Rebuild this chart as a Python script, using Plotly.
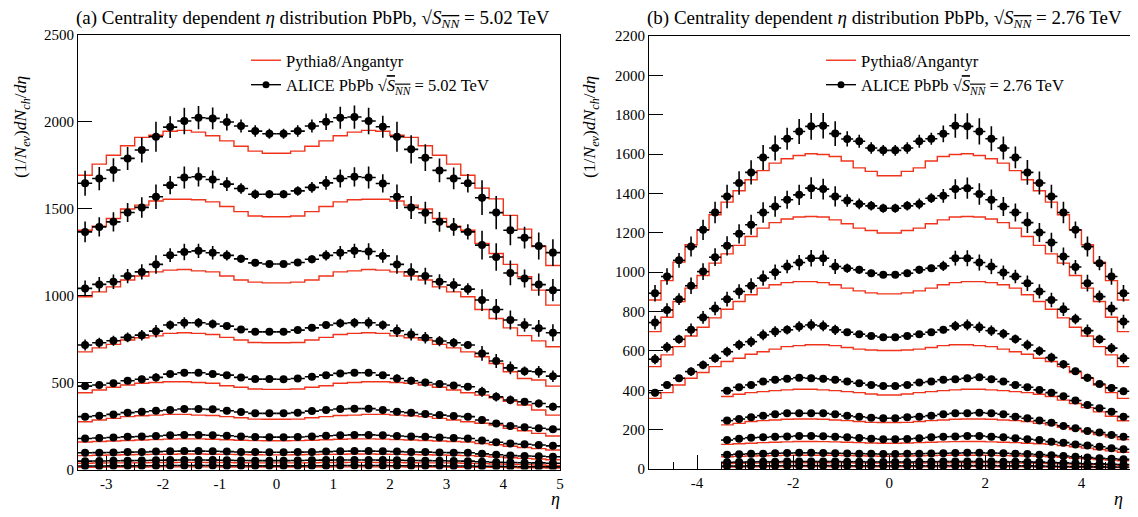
import plotly.graph_objects as go

# ---------------- Panel (a): PbPb 5.02 TeV ----------------
eta_a = [-3.375, -3.125, -2.875, -2.625, -2.375, -2.125, -1.875, -1.625, -1.375, -1.125,
         -0.875, -0.625, -0.375, -0.125, 0.125, 0.375, 0.625, 0.875, 1.125, 1.375,
         1.625, 1.875, 2.125, 2.375, 2.625, 2.875, 3.125, 3.375, 3.625, 3.875,
         4.125, 4.375, 4.625, 4.875]
edges_a = [-3.5, -3.25, -3.0, -2.75, -2.5, -2.25, -2.0, -1.75, -1.5, -1.25, -1.0, -0.75,
           -0.5, -0.25, 0.0, 0.25, 0.5, 0.75, 1.0, 1.25, 1.5, 1.75, 2.0, 2.25, 2.5, 2.75,
           3.0, 3.25, 3.5, 3.75, 4.0, 4.25, 4.5, 4.75, 5.0]
half_bin = 0.125

# ALICE data, centrality classes 0-5, 5-10, 10-20, ..., 80-90 %
alice_a_0_5 = [1647, 1674, 1723, 1790, 1838, 1915, 1970, 2005, 2024, 2020, 1999, 1976, 1947, 1932,
               1932, 1947, 1976, 2001, 2024, 2028, 2005, 1972, 1915, 1842, 1794, 1721, 1675, 1647,
               1564, 1478, 1377, 1334, 1286, 1248]
alice_a_5_10 = [1367, 1396, 1425, 1479, 1508, 1569, 1636, 1680, 1684, 1669, 1642, 1617, 1584, 1584,
                1584, 1603, 1623, 1649, 1674, 1684, 1680, 1646, 1569, 1508, 1477, 1425, 1396, 1367,
                1291, 1223, 1131, 1099, 1064, 1032]
alice_a_10_20 = [1042, 1065, 1080, 1113, 1137, 1180, 1233, 1252, 1258, 1247, 1232, 1212, 1189, 1182,
                 1182, 1191, 1210, 1232, 1247, 1258, 1254, 1229, 1180, 1137, 1113, 1080, 1061, 1038,
                 975, 921, 860, 831, 812, 787]
alice_a_20_30 = [716, 729, 741, 760, 773, 796, 831, 844, 844, 837, 825, 806, 792, 792,
                 792, 802, 815, 831, 841, 844, 844, 831, 798, 777, 758, 739, 729, 716,
                 668, 624, 585, 566, 562, 537]
alice_a_30_40 = [480, 486, 496, 511, 519, 530, 549, 557, 557, 549, 543, 530, 520, 520,
                 519, 524, 534, 543, 553, 557, 557, 543, 524, 511, 501, 492, 484, 476,
                 447, 418, 400, 390, 380, 361]
alice_a_40_50 = [304, 309, 317, 327, 332, 338, 342, 348, 348, 346, 338, 331, 323, 323,
                 323, 327, 336, 342, 348, 350, 350, 342, 332, 327, 319, 313, 308, 304,
                 285, 265, 250, 243, 237, 231]
alice_a_50_60 = [178, 181, 184, 188, 190, 193, 197, 199, 199, 197, 194, 190, 187, 186,
                 186, 187, 190, 194, 197, 199, 199, 197, 193, 190, 188, 184, 181, 178,
                 167, 157, 149, 145, 141, 136]
alice_a_60_70 = [96, 97, 98, 100, 101, 103, 105, 106, 106, 105, 103, 101, 100, 99,
                 99, 100, 101, 103, 105, 106, 106, 105, 103, 101, 100, 98, 97, 96,
                 90, 85, 80, 78, 76, 73]
alice_a_70_80 = [48, 49, 50, 51, 52, 53, 54, 55, 55, 54, 53, 52, 51, 51,
                 51, 52, 53, 54, 55, 55, 55, 54, 53, 52, 51, 50, 49, 48,
                 45, 42, 40, 39, 38, 36]
alice_a_80_90 = [20, 20, 21, 21, 22, 22, 23, 23, 23, 23, 22, 22, 21, 21,
                 21, 21, 22, 22, 23, 23, 23, 23, 22, 22, 21, 21, 20, 20,
                 19, 18, 17, 16, 16, 15]
rel_err_a = [0.044, 0.040, 0.039, 0.037, 0.039, 0.045, 0.032, 0.038, 0.033, 0.031, 0.024, 0.019,
             0.017, 0.015, 0.015, 0.017, 0.019, 0.024, 0.031, 0.033, 0.038, 0.032, 0.045, 0.044,
             0.043, 0.040, 0.037, 0.032, 0.064, 0.065, 0.063, 0.047, 0.060, 0.062]

# Pythia8/Angantyr histograms (one value per bin of edges_a)
pythia_a_0_5 = [1693, 1757, 1808, 1863, 1911, 1923, 1946, 1951, 1941, 1920, 1891, 1860, 1832, 1820,
                1820, 1832, 1860, 1891, 1920, 1941, 1951, 1946, 1923, 1911, 1863, 1808, 1757, 1693,
                1619, 1557, 1462, 1383, 1283, 1174]
pythia_a_5_10 = [1377, 1400, 1444, 1499, 1521, 1545, 1555, 1555, 1552, 1540, 1513, 1484, 1459, 1454,
                 1454, 1459, 1484, 1513, 1540, 1552, 1555, 1555, 1545, 1521, 1499, 1444, 1400, 1377,
                 1301, 1243, 1180, 1109, 1032, 946]
pythia_a_10_20 = [994, 1022, 1051, 1090, 1113, 1137, 1147, 1151, 1143, 1137, 1113, 1090, 1078, 1074,
                  1074, 1078, 1090, 1113, 1137, 1143, 1151, 1147, 1137, 1113, 1090, 1051, 1022, 994,
                  921, 869, 815, 770, 740, 706]
pythia_a_20_30 = [677, 700, 720, 745, 758, 769, 783, 787, 783, 777, 760, 745, 731, 729,
                  729, 731, 745, 760, 777, 783, 787, 783, 769, 758, 745, 720, 700, 677,
                  649, 610, 562, 524, 515, 480]
pythia_a_30_40 = [442, 457, 473, 486, 496, 501, 505, 505, 501, 496, 482, 473, 463, 461,
                  461, 463, 473, 482, 496, 501, 505, 505, 501, 496, 486, 473, 457, 442,
                  428, 412, 393, 371, 342, 313]
pythia_a_40_50 = [275, 285, 294, 304, 309, 313, 317, 317, 313, 311, 304, 298, 290, 289,
                  289, 290, 298, 304, 311, 313, 317, 317, 313, 309, 304, 294, 285, 275,
                  266, 256, 237, 223, 208, 193]
pythia_a_50_60 = [158, 161, 164, 167, 170, 172, 175, 176, 176, 174, 171, 168, 166, 165,
                  165, 166, 168, 171, 174, 176, 176, 175, 172, 170, 167, 164, 161, 158,
                  150, 142, 134, 127, 120, 112]
pythia_a_60_70 = [80, 82, 83, 85, 86, 87, 88, 89, 89, 88, 87, 86, 85, 84,
                  84, 85, 86, 87, 88, 89, 89, 88, 87, 86, 85, 83, 82, 80,
                  76, 72, 68, 64, 60, 56]
pythia_a_70_80 = [36, 37, 38, 38, 39, 40, 40, 41, 41, 40, 40, 39, 38, 38,
                  38, 38, 39, 40, 40, 41, 41, 40, 40, 39, 38, 38, 37, 36,
                  34, 32, 30, 28, 26, 24]
pythia_a_80_90 = [13, 13, 14, 14, 14, 15, 15, 15, 15, 15, 14, 14, 14, 14,
                  14, 14, 14, 14, 15, 15, 15, 15, 15, 14, 14, 14, 13, 13,
                  12, 12, 11, 10, 10, 9]

# ---------------- Panel (b): PbPb 2.76 TeV ----------------
eta_b_full = [-4.875, -4.625, -4.375, -4.125, -3.875, -3.625, -3.375, -3.125, -2.875, -2.625,
              -2.375, -2.125, -1.875, -1.625, -1.375, -1.125, -0.875, -0.625, -0.375, -0.125,
              0.125, 0.375, 0.625, 0.875, 1.125, 1.375, 1.625, 1.875, 2.125, 2.375,
              2.625, 2.875, 3.125, 3.375, 3.625, 3.875, 4.125, 4.375, 4.625, 4.875]
edges_b_full = [-5.0, -4.75, -4.5, -4.25, -4.0, -3.75, -3.5, -3.25, -3.0, -2.75, -2.5, -2.25,
                -2.0, -1.75, -1.5, -1.25, -1.0, -0.75, -0.5, -0.25, 0.0, 0.25, 0.5, 0.75,
                1.0, 1.25, 1.5, 1.75, 2.0, 2.25, 2.5, 2.75, 3.0, 3.25, 3.5, 3.75, 4.0, 4.25,
                4.5, 4.75, 5.0]
eta_b_short = eta_a
edges_b_short = edges_a

alice_b_0_5 = [893, 978, 1060, 1130, 1215, 1303, 1385, 1453, 1507, 1583, 1631, 1678, 1715, 1741,
               1744, 1704, 1677, 1665, 1631, 1619, 1619, 1631, 1665, 1678, 1703, 1744, 1741, 1715,
               1678, 1631, 1583, 1507, 1453, 1385, 1303, 1215, 1130, 1046, 978, 893]
alice_b_5_10 = [744, 808, 863, 931, 1003, 1076, 1134, 1195, 1241, 1303, 1334, 1368, 1393, 1427,
                1422, 1385, 1364, 1347, 1337, 1325, 1325, 1337, 1347, 1376, 1388, 1422, 1427, 1397,
                1368, 1334, 1303, 1252, 1202, 1151, 1080, 1026, 944, 876, 815, 749]
alice_b_10_20 = [558, 619, 659, 707, 770, 815, 863, 902, 931, 970, 1000, 1029, 1049, 1071,
                 1071, 1029, 1020, 1012, 995, 987, 987, 995, 1012, 1020, 1032, 1071, 1071, 1049,
                 1029, 998, 978, 944, 902, 859, 812, 762, 703, 659, 614, 563]
alice_b_20_30 = [388, 427, 461, 495, 529, 563, 596, 631, 647, 681, 698, 707, 724, 732,
                 727, 707, 695, 685, 676, 670, 670, 676, 685, 695, 707, 727, 732, 720,
                 703, 687, 660, 630, 600, 566, 532, 497, 463, 432, 412, 395]
alice_b_30_40 = [398, 415, 427, 444, 453, 458, 464, 461, 458, 453, 444, 436, 427, 422,
                 422, 427, 439, 444, 453, 456, 461, 466, 456, 444, 427, 415, 402, 388,
                 370, 348, 325, 309, 291, 266]
alice_b_40_50 = [246, 254, 263, 271, 278, 283, 283, 283, 283, 278, 270, 265, 261, 258,
                 258, 263, 266, 271, 278, 283, 283, 286, 283, 278, 266, 258, 246, 235,
                 219, 207, 193, 185, 173, 164]
alice_b_50_60 = [147, 154, 159, 161, 164, 165, 168, 168, 166, 164, 161, 158, 154, 151,
                 151, 153, 156, 161, 164, 165, 168, 168, 164, 161, 156, 151, 147, 139,
                 134, 125, 120, 113, 105, 100]
alice_b_60_70 = [72, 75, 77, 78, 80, 81, 82, 82, 81, 80, 79, 78, 77, 76,
                 76, 77, 78, 79, 80, 81, 82, 82, 81, 80, 78, 76, 73, 70,
                 66, 62, 58, 55, 52, 49]
alice_b_70_80 = [34, 35, 36, 37, 37, 38, 38, 38, 38, 38, 37, 37, 36, 36,
                 36, 36, 37, 37, 38, 38, 38, 38, 38, 37, 37, 36, 35, 33,
                 31, 29, 27, 26, 24, 23]
alice_b_80_90 = [15, 15, 16, 16, 16, 17, 17, 17, 17, 17, 16, 16, 16, 16,
                 16, 16, 16, 16, 17, 17, 17, 17, 17, 16, 16, 16, 15, 14,
                 13, 12, 12, 11, 10, 10]
rel_err_b_full = [0.047, 0.043, 0.035, 0.045, 0.042, 0.042, 0.043, 0.041, 0.041, 0.040,
                  0.039, 0.033, 0.037, 0.039, 0.037, 0.037, 0.023, 0.020, 0.018, 0.017,
                  0.017, 0.018, 0.020, 0.018, 0.025, 0.035, 0.038, 0.039, 0.038, 0.036,
                  0.035, 0.042, 0.040, 0.043, 0.042, 0.035, 0.045, 0.035, 0.043, 0.047]
rel_err_b_short = rel_err_b_full[6:]

pythia_b_0_5 = [859, 957, 1051, 1139, 1215, 1292, 1356, 1414, 1470, 1516, 1554, 1576, 1593, 1602,
                1598, 1588, 1565, 1530, 1512, 1490, 1490, 1512, 1530, 1565, 1588, 1598, 1602, 1593,
                1576, 1554, 1516, 1470, 1414, 1356, 1292, 1215, 1139, 1051, 957, 859]
pythia_b_5_10 = [698, 771, 851, 919, 983, 1046, 1093, 1136, 1181, 1224, 1252, 1270, 1280, 1283,
                 1280, 1266, 1246, 1224, 1212, 1199, 1199, 1212, 1224, 1246, 1266, 1280, 1283, 1280,
                 1270, 1252, 1224, 1181, 1136, 1093, 1046, 983, 919, 851, 771, 698]
pythia_b_10_20 = [520, 580, 622, 676, 720, 768, 812, 851, 885, 919, 936, 947, 952, 952,
                  947, 936, 919, 905, 895, 890, 890, 895, 905, 919, 936, 947, 952, 952,
                  947, 936, 919, 885, 851, 812, 768, 720, 676, 622, 580, 520]
pythia_b_20_30 = [359, 388, 427, 461, 490, 520, 546, 563, 583, 596, 609, 622, 627, 631,
                  631, 627, 617, 609, 605, 602, 602, 605, 609, 617, 627, 631, 631, 627,
                  622, 609, 596, 583, 563, 546, 520, 490, 461, 427, 388, 359]
pythia_b_30_40 = [368, 380, 388, 393, 398, 402, 405, 405, 402, 398, 393, 388, 381, 376,
                  376, 381, 388, 393, 398, 402, 405, 405, 402, 398, 393, 388, 380, 368,
                  350, 333, 312, 290, 268, 245]
pythia_b_40_50 = [224, 232, 241, 246, 249, 253, 254, 254, 253, 249, 246, 241, 237, 236,
                  236, 237, 241, 246, 249, 253, 254, 254, 253, 249, 246, 241, 232, 224,
                  212, 200, 188, 175, 163, 150]
pythia_b_50_60 = [125, 128, 131, 134, 136, 138, 140, 140, 139, 138, 136, 134, 132, 131,
                  131, 132, 134, 136, 138, 139, 140, 140, 138, 136, 134, 131, 128, 125,
                  119, 113, 106, 99, 92, 85]
pythia_b_60_70 = [62, 64, 66, 67, 68, 69, 70, 70, 70, 69, 68, 67, 66, 65,
                  65, 66, 67, 68, 69, 70, 70, 70, 69, 68, 67, 66, 64, 62,
                  59, 55, 52, 48, 45, 42]
pythia_b_70_80 = [28, 29, 30, 30, 31, 31, 32, 32, 32, 31, 31, 30, 30, 30,
                  30, 30, 30, 31, 31, 32, 32, 32, 31, 31, 30, 30, 29, 28,
                  26, 25, 23, 22, 20, 19]
pythia_b_80_90 = [10, 10, 11, 11, 11, 11, 12, 12, 12, 11, 11, 11, 11, 11,
                  11, 11, 11, 11, 11, 12, 12, 12, 11, 11, 11, 11, 10, 10,
                  9, 9, 8, 8, 7, 7]

xticks_a = [-3, -2, -1, 0, 1, 2, 3, 4, 5]
xticktext_a = ["-3", "-2", "-1", "0", "1", "2", "3", "4", "5"]
xticks_b = [-4, -2, 0, 2, 4]
xticktext_b = ["-4", "-2", "0", "2", "4"]

# ---------------- build figure ----------------
RED = "rgb(240,52,28)"
FONT = "Liberation Serif"
SQRTS = "√<span style='text-decoration:overline'><i>S</i><sub><i>NN</i></sub></span>"

panel_a = [
    (eta_a, edges_a, rel_err_a, d, p) for d, p in [
        (alice_a_0_5, pythia_a_0_5), (alice_a_5_10, pythia_a_5_10), (alice_a_10_20, pythia_a_10_20),
        (alice_a_20_30, pythia_a_20_30), (alice_a_30_40, pythia_a_30_40), (alice_a_40_50, pythia_a_40_50),
        (alice_a_50_60, pythia_a_50_60), (alice_a_60_70, pythia_a_60_70), (alice_a_70_80, pythia_a_70_80),
        (alice_a_80_90, pythia_a_80_90)]
]
panel_b = [
    (eta_b_full, edges_b_full, rel_err_b_full, alice_b_0_5, pythia_b_0_5),
    (eta_b_full, edges_b_full, rel_err_b_full, alice_b_5_10, pythia_b_5_10),
    (eta_b_full, edges_b_full, rel_err_b_full, alice_b_10_20, pythia_b_10_20),
    (eta_b_full, edges_b_full, rel_err_b_full, alice_b_20_30, pythia_b_20_30),
    (eta_b_short, edges_b_short, rel_err_b_short, alice_b_30_40, pythia_b_30_40),
    (eta_b_short, edges_b_short, rel_err_b_short, alice_b_40_50, pythia_b_40_50),
    (eta_b_short, edges_b_short, rel_err_b_short, alice_b_50_60, pythia_b_50_60),
    (eta_b_short, edges_b_short, rel_err_b_short, alice_b_60_70, pythia_b_60_70),
    (eta_b_short, edges_b_short, rel_err_b_short, alice_b_70_80, pythia_b_70_80),
    (eta_b_short, edges_b_short, rel_err_b_short, alice_b_80_90, pythia_b_80_90),
]

fig = go.Figure()

for panel, xa, ya in [(panel_a, "x", "y"), (panel_b, "x2", "y2")]:
    for centers, edges, rel, data, py_ in panel:
        fig.add_trace(go.Scatter(
            x=edges, y=py_ + [py_[-1]], mode="lines", line=dict(color=RED, width=1.4, shape="hv"),
            xaxis=xa, yaxis=ya, showlegend=False, hoverinfo="skip"))
    for centers, edges, rel, data, py_ in panel:
        fig.add_trace(go.Scatter(
            x=centers, y=data, mode="markers",
            marker=dict(color="black", size=8, symbol="circle"),
            error_y=dict(type="data", array=[v * r for v, r in zip(data, rel)],
                         color="black", thickness=1.6, width=0),
            error_x=dict(type="constant", value=half_bin, color="black", thickness=1.6, width=0),
            xaxis=xa, yaxis=ya, showlegend=False))

# legend entries
for lg, energy, xa, ya in [("legend", "5.02", "x", "y"), ("legend2", "2.76", "x2", "y2")]:
    fig.add_trace(go.Scatter(x=[None], y=[None], mode="lines", name="Pythia8/Angantyr",
                             line=dict(color=RED, width=1.4), xaxis=xa, yaxis=ya, legend=lg))
    fig.add_trace(go.Scatter(x=[None], y=[None], mode="lines+markers",
                             name=f"ALICE PbPb {SQRTS} = {energy} TeV",
                             line=dict(color="black", width=1.4),
                             marker=dict(color="black", size=7), xaxis=xa, yaxis=ya, legend=lg))

# The page body keeps the browser's default 8 px margin, so the figure is sized to
# fill exactly the 1138x517 window and screen positions are converted accordingly.
PAGE_MARGIN = 8
W, H = 1138 - 2 * PAGE_MARGIN, 517 - 2 * PAGE_MARGIN


def px(t):
    return (t - PAGE_MARGIN) / W


def py(t):
    return 1 - (t - PAGE_MARGIN) / H


axis_common = dict(showline=True, mirror=True, linecolor="black", linewidth=1, showgrid=False,
                   zeroline=False, ticks="inside", tickcolor="black", tickwidth=1,
                   automargin=False,
                   tickfont=dict(family=FONT, size=15, color="black"))

fig.update_layout(
    width=W, height=H, margin=dict(l=0, r=0, t=0, b=0, autoexpand=False),
    paper_bgcolor="white", plot_bgcolor="white",
    font=dict(family=FONT, color="black"),
    xaxis=dict(domain=[px(78), px(560)], range=[-3.5, 5], anchor="y", tickvals=xticks_a,
               ticktext=xticktext_a, ticklen=14,
               minor=dict(ticks="inside", ticklen=7, dtick=0.5, tickcolor="black"), **axis_common),
    yaxis=dict(domain=[py(469.5), py(35)], range=[0, 2500], anchor="x", dtick=500,
               ticklen=14, **axis_common),
    xaxis2=dict(domain=[px(649), px(1129.5)], range=[-5, 5], anchor="y2", tickvals=xticks_b,
                ticktext=xticktext_b, ticklen=14,
                minor=dict(ticks="inside", ticklen=7, dtick=0.5, tickcolor="black"), **axis_common),
    yaxis2=dict(domain=[py(469), py(36)], range=[0, 2200], anchor="x2", dtick=200,
                ticklen=14, **axis_common),
    legend=dict(x=px(246), y=py(43), xanchor="left", yanchor="top", bgcolor="rgba(0,0,0,0)",
                font=dict(family=FONT, size=16.5, color="black"), tracegroupgap=0),
    legend2=dict(x=px(821), y=py(43), xanchor="left", yanchor="top", bgcolor="rgba(0,0,0,0)",
                 font=dict(family=FONT, size=16.5, color="black"), tracegroupgap=0),
)

ylab = "(1/<i>N</i><sub><i>ev</i></sub>)<i>dN</i><sub><i>ch</i></sub>/<i>dη</i>"
annotations = [
    dict(text=f"(a) Centrality dependent <i>η</i> distribution PbPb, {SQRTS} = 5.02 TeV",
         x=px(74), y=py(19), xanchor="left", yanchor="middle"),
    dict(text=f"(b) Centrality dependent <i>η</i> distribution PbPb, {SQRTS} = 2.76 TeV",
         x=px(645), y=py(19), xanchor="left", yanchor="middle"),
]
for a in annotations:
    a.update(xref="paper", yref="paper", showarrow=False, font=dict(family=FONT, size=19, color="black"))
annotations += [
    dict(text=ylab, x=px(21), y=py(127), textangle=-90, xref="paper", yref="paper",
         showarrow=False, xanchor="center", yanchor="middle", font=dict(family=FONT, size=17.5)),
    dict(text=ylab, x=px(590), y=py(127), textangle=-90, xref="paper", yref="paper",
         showarrow=False, xanchor="center", yanchor="middle", font=dict(family=FONT, size=17.5)),
    dict(text="<i>η</i>", x=px(555), y=0, yanchor="bottom", yshift=-2, xref="paper", yref="paper",
         showarrow=False, font=dict(family=FONT, size=18)),
    dict(text="<i>η</i>", x=px(1125), y=0, yanchor="bottom", yshift=-2, xref="paper", yref="paper",
         showarrow=False, font=dict(family=FONT, size=18)),
]
fig.update_layout(annotations=annotations)

fig.write_html("out.html")
